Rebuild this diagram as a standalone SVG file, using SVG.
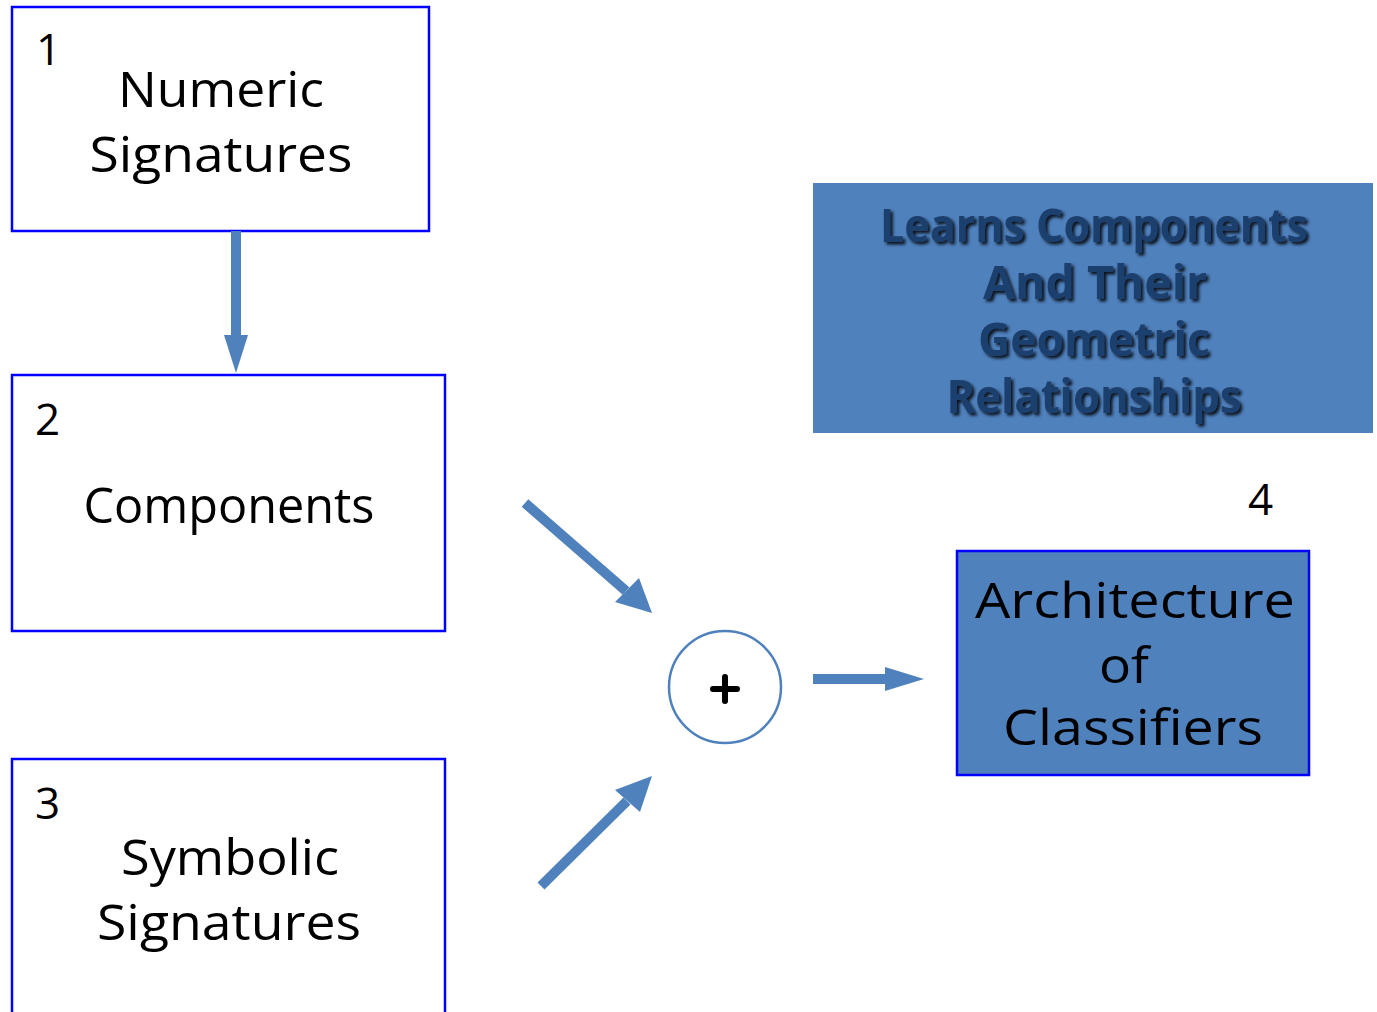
<svg xmlns="http://www.w3.org/2000/svg" width="1377" height="1012" viewBox="0 0 1377 1012">
<style>
.box{fill:#ffffff;stroke:#0000ff;stroke-width:2.5}
.fbox{fill:#4f81bd;stroke:#0000ff;stroke-width:2.5}
.t{font-family:"Open Sans","DejaVu Sans",sans-serif;font-size:50px;fill:#000000;text-anchor:middle}
.n{font-family:"Open Sans","DejaVu Sans",sans-serif;font-size:44px;fill:#000000}
.lt{font-family:"Open Sans","DejaVu Sans",sans-serif;font-size:46px;font-weight:bold;fill:#1f3f6e;text-anchor:middle}
.shaft{stroke:#4f81bd;stroke-width:10;fill:none}
.head{fill:#4f81bd}
</style>
<defs>
<filter id="sh" x="-10%" y="-20%" width="120%" height="140%">
<feDropShadow dx="2.5" dy="2.5" stdDeviation="1.5" flood-color="#000000" flood-opacity="0.85"/>
</filter>
</defs>
<rect x="0" y="0" width="1377" height="1012" fill="#ffffff"/>
<g id="node1">
<rect class="box" x="12" y="7" width="417" height="224"/>
<text class="n" x="36" y="65">1</text>
<text class="t" x="221" y="107" textLength="206" lengthAdjust="spacingAndGlyphs">Numeric</text>
<text class="t" x="221" y="172" textLength="263" lengthAdjust="spacingAndGlyphs">Signatures</text>
</g>
<g id="node2">
<rect class="box" x="12" y="375" width="433" height="256"/>
<text class="n" x="35" y="435">2</text>
<text class="t" x="229" y="523" textLength="291" lengthAdjust="spacingAndGlyphs">Components</text>
</g>
<g id="node3">
<rect class="box" x="12" y="759" width="433" height="270"/>
<text class="n" x="35" y="819">3</text>
<text class="t" x="230" y="875" textLength="218" lengthAdjust="spacingAndGlyphs">Symbolic</text>
<text class="t" x="229" y="940" textLength="264" lengthAdjust="spacingAndGlyphs">Signatures</text>
</g>
<g id="note">
<rect x="813" y="183" width="560" height="250" fill="#4f81bd"/>
<g filter="url(#sh)">
<text class="lt" x="1094" y="242" textLength="428" lengthAdjust="spacingAndGlyphs">Learns Components</text>
<text class="lt" x="1095" y="299" textLength="224" lengthAdjust="spacingAndGlyphs">And Their</text>
<text class="lt" x="1094" y="356" textLength="232" lengthAdjust="spacingAndGlyphs">Geometric</text>
<text class="lt" x="1094" y="413" textLength="295" lengthAdjust="spacingAndGlyphs">Relationships</text>
</g>
</g>
<g id="node4">
<text class="n" x="1248" y="515">4</text>
<rect class="fbox" x="957" y="551" width="352" height="224"/>
<text class="t" x="1135" y="618" textLength="320" lengthAdjust="spacingAndGlyphs">Architecture</text>
<text class="t" x="1124" y="683" textLength="50" lengthAdjust="spacingAndGlyphs">of</text>
<text class="t" x="1133" y="745" textLength="260" lengthAdjust="spacingAndGlyphs">Classifiers</text>
</g>
<g id="sum">
<circle cx="725" cy="687" r="56" fill="#ffffff" stroke="#4f81bd" stroke-width="2.5"/>
<path d="M713 689 H737 M725 677 V701" stroke="#000000" stroke-width="6" stroke-linecap="round"/>
</g>
<g id="connectors">
<line class="shaft" x1="236" y1="231" x2="236" y2="337"/>
<polygon class="head" points="224,335 248,335 236,373"/>
<line class="shaft" x1="525" y1="503" x2="626" y2="591"/>
<polygon class="head" points="615,602 639,578 652,613"/>
<line class="shaft" x1="541" y1="886" x2="627" y2="801"/>
<polygon class="head" points="615,790 640,812 652,776"/>
<line class="shaft" x1="813" y1="679" x2="888" y2="679"/>
<polygon class="head" points="885,667 885,691 924,679"/>
</g>
</svg>
